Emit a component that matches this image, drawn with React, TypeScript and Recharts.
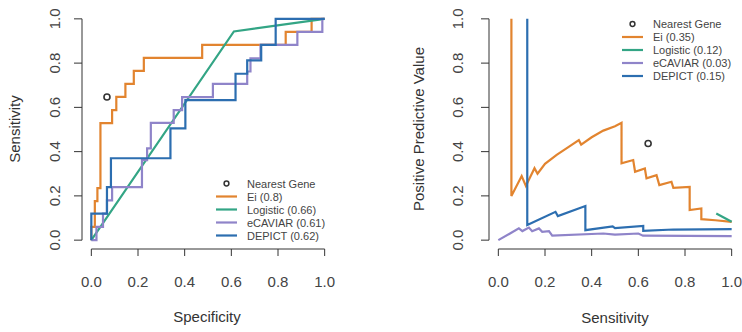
import { ComposedChart, Line, ReferenceLine, XAxis, YAxis } from 'recharts';

// ticks shared by both panels
const tickValues = [0, 0.2, 0.4, 0.6, 0.8, 1];

// ROC panel (x = specificity, y = sensitivity)
const eiRoc = [
  [0, 0], [0, 0.06], [0.015, 0.06], [0.015, 0.176], [0.026, 0.176], [0.026, 0.235],
  [0.039, 0.235], [0.039, 0.529], [0.089, 0.529], [0.089, 0.588], [0.107, 0.588],
  [0.107, 0.647], [0.146, 0.647], [0.146, 0.706], [0.182, 0.706], [0.182, 0.765],
  [0.225, 0.765], [0.225, 0.824], [0.475, 0.824], [0.475, 0.882], [0.833, 0.882],
  [0.833, 0.941], [0.944, 0.941], [0.944, 1], [1, 1],
];
const logisticRoc = [[0, 0], [0.611, 0.943], [1, 1]];
const ecaviarRoc = [
  [0, 0], [0.022, 0], [0.022, 0.06], [0.05, 0.06], [0.05, 0.12], [0.067, 0.12],
  [0.067, 0.18], [0.089, 0.18], [0.089, 0.24], [0.217, 0.24], [0.217, 0.362],
  [0.239, 0.362], [0.239, 0.415], [0.255, 0.415], [0.255, 0.53], [0.353, 0.53],
  [0.353, 0.588], [0.389, 0.588], [0.389, 0.646], [0.521, 0.646], [0.521, 0.706],
  [0.668, 0.706], [0.668, 0.762], [0.682, 0.762], [0.682, 0.822], [0.725, 0.822],
  [0.725, 0.882], [0.883, 0.882], [0.883, 0.941], [0.99, 0.941], [0.99, 1], [1, 1],
];
const depictRoc = [
  [0, 0], [0, 0.12], [0.067, 0.12], [0.067, 0.24], [0.084, 0.24], [0.084, 0.37],
  [0.339, 0.37], [0.339, 0.505], [0.403, 0.505], [0.403, 0.633], [0.618, 0.633],
  [0.618, 0.752], [0.668, 0.752], [0.668, 0.812], [0.728, 0.812], [0.728, 0.882],
  [0.79, 0.882], [0.79, 1], [1, 1],
];
const nearestRoc = [0.067, 0.647];

// PPV panel (x = sensitivity, y = positive predictive value)
const eiPpv = [
  [0.056, 1], [0.056, 0.2], [0.1, 0.29], [0.118, 0.245], [0.155, 0.325], [0.168, 0.3],
  [0.2, 0.345], [0.25, 0.385], [0.3, 0.42], [0.345, 0.452], [0.355, 0.432], [0.4, 0.465],
  [0.45, 0.495], [0.5, 0.515], [0.528, 0.53], [0.528, 0.347], [0.578, 0.362],
  [0.586, 0.309], [0.628, 0.324], [0.635, 0.279], [0.678, 0.294], [0.69, 0.249],
  [0.742, 0.264], [0.75, 0.236], [0.82, 0.241], [0.82, 0.136], [0.87, 0.143],
  [0.87, 0.095], [0.93, 0.09], [1, 0.083],
];
const logisticPpv = [[0.934, 0.12], [1, 0.083]];
const ecaviarPpv = [
  [0, 0], [0.05, 0.03], [0.088, 0.053], [0.103, 0.041], [0.131, 0.057], [0.145, 0.04],
  [0.174, 0.053], [0.188, 0.038], [0.217, 0.041], [0.231, 0.02], [0.45, 0.03],
  [0.5, 0.025], [0.6, 0.03], [0.62, 0.02], [1, 0.018],
];
const depictPpv = [
  [0.124, 1], [0.124, 0.068], [0.245, 0.128], [0.255, 0.109], [0.373, 0.154],
  [0.373, 0.045], [0.49, 0.062], [0.5, 0.054], [0.621, 0.064], [0.621, 0.042],
  [0.75, 0.048], [1, 0.05],
];
const nearestPpv = [0.642, 0.437];

const seriesNames = ['Ei', 'Logistic', 'eCAVIAR', 'DEPICT'];
const rocScores = ['0.8', '0.66', '0.61', '0.62'];
const ppvScores = ['0.35', '0.12', '0.03', '0.15'];
const seriesColors = ['#e2842f', '#33a585', '#8f84c9', '#2c6eb0'];

const FONT = '"Liberation Sans", Arial, Helvetica, sans-serif';
const INK = '#333';
const toPoints = (pairs: number[][]) => pairs.map(([x, y]) => ({ x, y }));

type PanelProps = {
  width: number;
  yAxisWidth: number;
  marginRight: number;
  yTickX: number;
  series: number[][][];
  nearest: number[];
};

const Panel = ({ width, yAxisWidth, marginRight, yTickX, series, nearest }: PanelProps) => (
  <ComposedChart
    width={width}
    height={332}
    margin={{ top: 10, right: marginRight, left: 0, bottom: 0 }}
  >
    <XAxis
      type="number"
      dataKey="x"
      domain={[-0.04, 1.04]}
      ticks={tickValues}
      allowDataOverflow
      axisLine={false}
      tickLine={{ stroke: INK }}
      tickSize={7}
      height={83}
      tick={({ x, payload }: any) => (
        <text x={x} y={287} textAnchor="middle" fontSize={15} fill="#444" fontFamily={FONT}>
          {Number(payload.value).toFixed(1)}
        </text>
      )}
    />
    <YAxis
      type="number"
      domain={[-0.04, 1.04]}
      ticks={tickValues}
      allowDataOverflow
      axisLine={false}
      tickLine={{ stroke: INK }}
      tickSize={8}
      width={yAxisWidth}
      tick={({ y, payload }: any) => (
        <text
          x={yTickX}
          y={y}
          transform={`rotate(-90, ${yTickX}, ${y})`}
          textAnchor="middle"
          fontSize={15}
          fill="#444"
          fontFamily={FONT}
        >
          {Number(payload.value).toFixed(1)}
        </text>
      )}
    />
    <ReferenceLine
      segment={[{ x: 0, y: -0.04 }, { x: 1, y: -0.04 }]}
      stroke={INK}
      ifOverflow="visible"
    />
    <ReferenceLine
      segment={[{ x: -0.04, y: 0 }, { x: -0.04, y: 1 }]}
      stroke={INK}
      ifOverflow="visible"
    />
    {series.map((pairs, i) => (
      <Line
        key={seriesNames[i]}
        data={toPoints(pairs)}
        dataKey="y"
        type="linear"
        stroke={seriesColors[i]}
        strokeWidth={2.2}
        dot={false}
        isAnimationActive={false}
      />
    ))}
    <Line
      data={toPoints([nearest])}
      dataKey="y"
      stroke="none"
      dot={{ r: 3, fill: '#fff', stroke: INK, strokeWidth: 1.6 }}
      isAnimationActive={false}
    />
  </ComposedChart>
);

const LegendBox = ({ x, y, scores }: { x: number; y: number; scores: string[] }) => (
  <g fontFamily={FONT} fontSize={11} fill="#444">
    <circle cx={x + 10.5} cy={y} r={2.4} fill="none" stroke={INK} strokeWidth={1.5} />
    <text x={x + 31} y={y + 4}>Nearest Gene</text>
    {seriesNames.map((name, i) => (
      <g key={name}>
        <line
          x1={x}
          x2={x + 21}
          y1={y + 13 * (i + 1)}
          y2={y + 13 * (i + 1)}
          stroke={seriesColors[i]}
          strokeWidth={2.2}
        />
        <text x={x + 31} y={y + 13 * (i + 1) + 4}>{`${name} (${scores[i]})`}</text>
      </g>
    ))}
  </g>
);

export default function App() {
  return (
    <div
      style={{
        position: 'absolute',
        left: 0,
        top: 0,
        width: 742,
        height: 332,
        background: '#fff',
        overflow: 'hidden',
      }}
    >
      <div style={{ position: 'absolute', left: 0, top: 0 }}>
        <Panel
          width={370}
          yAxisWidth={82}
          marginRight={36}
          yTickX={60}
          series={[eiRoc, logisticRoc, ecaviarRoc, depictRoc]}
          nearest={nearestRoc}
        />
      </div>
      <div style={{ position: 'absolute', left: 370, top: 0 }}>
        <Panel
          width={372}
          yAxisWidth={119}
          marginRight={1}
          yTickX={93}
          series={[eiPpv, logisticPpv, ecaviarPpv, depictPpv]}
          nearest={nearestPpv}
        />
      </div>
      <svg
        width={742}
        height={332}
        style={{ position: 'absolute', left: 0, top: 0, pointerEvents: 'none' }}
      >
        <g fontFamily={FONT} fontSize={15} fill={INK} textAnchor="middle">
          <text x={207} y={322}>Specificity</text>
          <text x={615} y={323}>Sensitivity</text>
          <text x={20} y={129} transform="rotate(-90, 20, 129)">Sensitivity</text>
          <text x={424} y={129} transform="rotate(-90, 424, 129)">Positive Predictive Value</text>
        </g>
        <LegendBox x={216} y={183.5} scores={rocScores} />
        <LegendBox x={622} y={24} scores={ppvScores} />
      </svg>
    </div>
  );
}
